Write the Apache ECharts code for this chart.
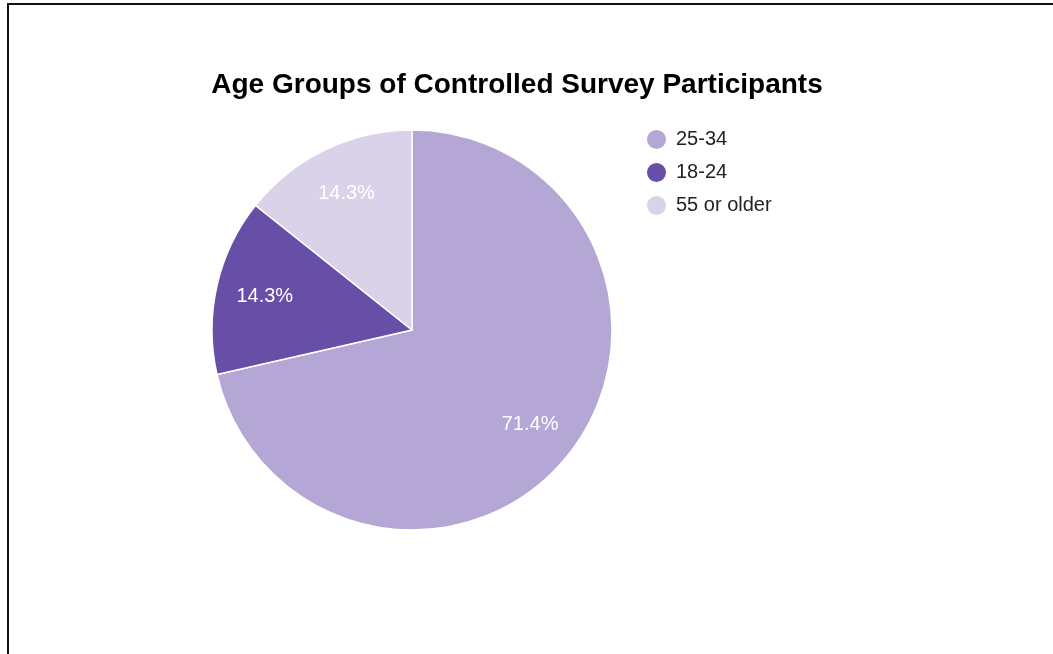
<!DOCTYPE html>
<html>
<head>
<meta charset="utf-8">
<title>Age Groups of Controlled Survey Participants</title>
<script src="https://cdn.jsdelivr.net/npm/echarts@6/dist/echarts.min.js"></script>
<style>
  html, body { margin: 0; padding: 0; width: 1053px; height: 654px; overflow: hidden; background: #fff; }
  #frame { position: absolute; left: 7px; top: 3px; width: 2000px; height: 2000px; border: 2px solid #111; box-sizing: border-box; }
  #chart { position: absolute; left: 0; top: 0; width: 1053px; height: 654px; }
</style>
</head>
<body>
<div id="frame"></div>
<div id="chart"></div>
<script>
// Age groups and their participant counts
const ageGroups = ['25-34', '18-24', '55 or older'];
const participants = [5, 1, 1];
const groupColors = ['#b4a7d6', '#674ea7', '#d9d2e9'];

const FONT = '"Liberation Sans", Arial, sans-serif';

const sliceData = ageGroups.map((name, i) => ({
  name: name,
  value: participants[i],
  itemStyle: { color: groupColors[i] }
}));

const chart = echarts.init(document.getElementById('chart'), null, { renderer: 'canvas' });

chart.setOption({
  animation: false,
  title: {
    text: 'Age Groups of Controlled Survey Participants',
    left: 512,
    textAlign: 'center',
    top: 66,
    textStyle: { fontFamily: FONT, fontSize: 28, fontWeight: 'bold', color: '#000' }
  },
  legend: {
    orient: 'vertical',
    left: 645,
    top: 128,
    padding: 0,
    icon: 'circle',
    itemWidth: 21,
    itemHeight: 21,
    itemGap: 10,
    textStyle: { fontFamily: FONT, fontSize: 20, color: '#222', padding: [0, 0, 0, 4] },
    data: ageGroups
  },
  series: [
    {
      // the slices
      type: 'pie',
      center: [412, 330],
      radius: [0, 200],
      startAngle: 90,
      clockwise: true,
      data: sliceData,
      itemStyle: { borderColor: '#fff', borderWidth: 1.5 },
      label: { show: false },
      labelLine: { show: false },
      emphasis: { disabled: true }
    },
    {
      // percentage labels, placed three quarters of the way out
      type: 'pie',
      center: [412, 330],
      radius: [96, 200],
      startAngle: 90,
      clockwise: true,
      silent: true,
      legendHoverLink: false,
      data: sliceData.map(d => ({ name: d.name, value: d.value, itemStyle: { color: 'rgba(0,0,0,0)' } })),
      itemStyle: { borderWidth: 0 },
      label: {
        show: true,
        position: 'inside',
        formatter: p => p.percent.toFixed(1) + '%',
        fontFamily: FONT,
        fontSize: 20,
        color: '#fff'
      },
      labelLine: { show: false },
      emphasis: { disabled: true }
    }
  ]
});
</script>
</body>
</html>
